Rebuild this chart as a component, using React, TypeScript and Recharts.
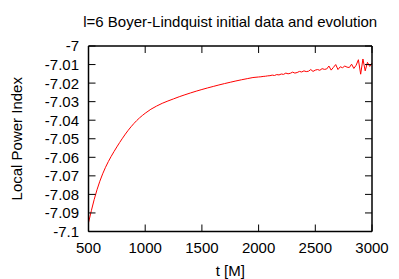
import { LineChart, Line, XAxis, YAxis, Label } from "recharts";

const FONT = '"Liberation Sans", Arial, Helvetica, sans-serif';
const TICK_LEN = 7;

// smooth early part of the run
const T_EARLY = [
  500, 525, 550, 575, 600, 625, 650, 675, 700, 725, 750, 775, 800, 825, 850,
  875, 900, 925, 950, 975, 1000, 1050, 1100, 1150, 1200, 1250, 1300, 1350,
  1400, 1450, 1500, 1550, 1600, 1650, 1700, 1750, 1800, 1850, 1900, 1950,
  2000,
];
const LPI_EARLY = [
  -7.0953, -7.0888, -7.0828, -7.0775, -7.0729, -7.0689, -7.0654, -7.0623,
  -7.0595, -7.0569, -7.0544, -7.052, -7.0497, -7.0475, -7.04545, -7.04355,
  -7.0418, -7.0402, -7.03875, -7.03745, -7.03625, -7.0341, -7.0324, -7.0309,
  -7.02965, -7.0285, -7.02735, -7.0263, -7.0253, -7.02435, -7.02345,
  -7.0226, -7.0218, -7.021, -7.02025, -7.01955, -7.01885, -7.0182, -7.0176,
  -7.017, -7.0167,
];

// late part, where the index gets noisy
const T_LATE = [
  2020, 2040, 2060, 2080, 2100, 2120, 2140, 2160, 2180, 2200, 2220, 2240,
  2260, 2280, 2300, 2320, 2340, 2360, 2380, 2400, 2420, 2440, 2460, 2480,
  2500, 2520, 2540, 2560, 2580, 2600, 2620, 2640, 2660, 2680, 2700, 2720,
  2740, 2760, 2780, 2800, 2820, 2840, 2860, 2880, 2900, 2920, 2940, 2960,
  2980, 3000,
];
const LPI_LATE = [
  -7.0166, -7.0164, -7.0163, -7.0161, -7.016, -7.0157, -7.0159, -7.0154,
  -7.0156, -7.0151, -7.0153, -7.0146, -7.015, -7.0147, -7.0141, -7.0146,
  -7.0143, -7.0137, -7.014, -7.0134, -7.0138, -7.0136, -7.0127, -7.0137,
  -7.013, -7.0127, -7.0131, -7.0122, -7.0126, -7.0124, -7.0108, -7.013,
  -7.0115, -7.01, -7.0127, -7.0112, -7.0117, -7.0108, -7.0114, -7.0116,
  -7.0098, -7.0121, -7.0104, -7.0074, -7.0152, -7.007, -7.0134, -7.0088,
  -7.011, -7.0092,
];

const X_TICKS = [500, 1000, 1500, 2000, 2500, 3000];
const Y_TICKS = [
  -7.1, -7.09, -7.08, -7.07, -7.06, -7.05, -7.04, -7.03, -7.02, -7.01, -7,
];

const data = [...T_EARLY, ...T_LATE].map((t, i) => ({
  t,
  lpi: [...LPI_EARLY, ...LPI_LATE][i],
}));

const fmtY = (v: number) => String(Number(v.toFixed(2)));

function BottomTick({ x, y, payload }: any) {
  return (
    <g>
      <line x1={x} x2={x} y1={y} y2={y - TICK_LEN} stroke="#000" />
      <text x={x} y={y + 21.8} textAnchor="middle" fontFamily={FONT} fontSize={15} fill="#000">
        {payload.value}
      </text>
    </g>
  );
}

function TopTick({ x, y }: any) {
  return <line x1={x} x2={x} y1={y} y2={y + TICK_LEN} stroke="#000" />;
}

function LeftTick({ x, y, payload }: any) {
  return (
    <g>
      <line x1={x} x2={x + TICK_LEN} y1={y} y2={y} stroke="#000" />
      <text x={x - 9.5} y={y + 5.4} textAnchor="end" fontFamily={FONT} fontSize={15} fill="#000">
        {fmtY(payload.value)}
      </text>
    </g>
  );
}

function RightTick({ x, y }: any) {
  return <line x1={x} x2={x - TICK_LEN} y1={y} y2={y} stroke="#000" />;
}

function YTitle({ viewBox }: any) {
  const cx = viewBox.x + 21.5;
  const cy = viewBox.y + viewBox.height / 2;
  return (
    <text
      x={cx}
      y={cy}
      transform={`rotate(-90 ${cx} ${cy})`}
      textAnchor="middle"
      fontFamily={FONT}
      fontSize={15}
      fill="#000"
    >
      Local Power Index
    </text>
  );
}

const AXIS_LINE = { stroke: "#000", strokeWidth: 1.5 };

export default function App() {
  return (
    <div style={{ position: "absolute", left: 0, top: 0, background: "#fff" }}>
      <LineChart
        width={399}
        height={279}
        data={data}
        margin={{ top: 45, right: 26, bottom: 0, left: 0 }}
      >
        <XAxis
          dataKey="t"
          type="number"
          domain={[500, 3000]}
          ticks={X_TICKS}
          interval={0}
          height={47.5}
          tickSize={0}
          tickMargin={0}
          tickLine={false}
          axisLine={AXIS_LINE}
          tick={<BottomTick />}
        >
          <Label
            value="t [M]"
            position="insideBottom"
            offset={3}
            fontFamily={FONT}
            fontSize={15}
            fill="#000"
          />
        </XAxis>
        <XAxis
          xAxisId="top"
          dataKey="t"
          type="number"
          orientation="top"
          domain={[500, 3000]}
          ticks={X_TICKS}
          interval={0}
          height={1}
          tickSize={0}
          tickMargin={0}
          tickLine={false}
          axisLine={AXIS_LINE}
          tick={<TopTick />}
        >
          <Label
            value="l=6 Boyer-Lindquist initial data and evolution"
            position="top"
            offset={18.5}
            fontFamily={FONT}
            fontSize={15}
            fill="#000"
          />
        </XAxis>
        <YAxis
          type="number"
          domain={[-7.1, -7]}
          ticks={Y_TICKS}
          interval={0}
          width={88.5}
          tickSize={0}
          tickMargin={0}
          tickLine={false}
          axisLine={AXIS_LINE}
          tick={<LeftTick />}
          allowDataOverflow
        >
          <Label content={<YTitle />} />
        </YAxis>
        <YAxis
          yAxisId="right"
          type="number"
          orientation="right"
          domain={[-7.1, -7]}
          ticks={Y_TICKS}
          interval={0}
          width={1}
          tickSize={0}
          tickMargin={0}
          tickLine={false}
          axisLine={AXIS_LINE}
          tick={<RightTick />}
          allowDataOverflow
        />
        <Line
          dataKey="lpi"
          type="linear"
          stroke="#ff0000"
          strokeWidth={1}
          dot={false}
          isAnimationActive={false}
        />
      </LineChart>
    </div>
  );
}
